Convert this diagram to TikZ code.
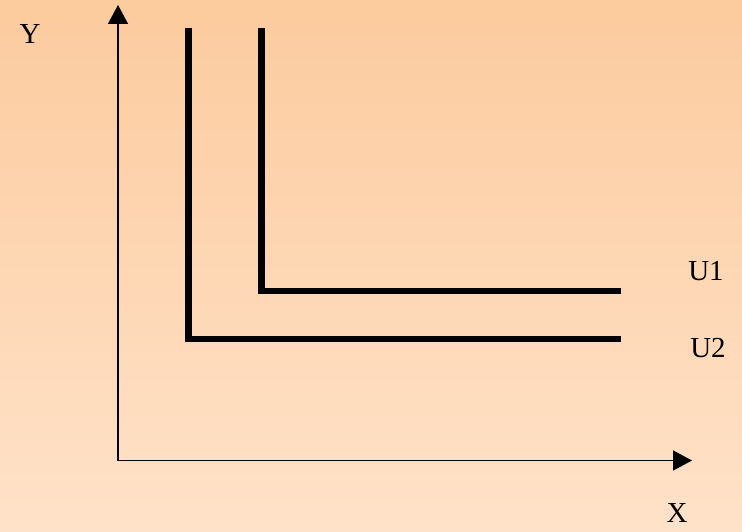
\documentclass[tikz,border=0pt]{standalone}
\usepackage{fontspec}
\setmainfont{Liberation Serif}
\usetikzlibrary{arrows.meta}
\definecolor{bgtop}{RGB}{252,203,158}
\definecolor{bgbot}{RGB}{255,226,201}
\tikzset{
  axis/.style={line width=1.6bp,-{Triangle[length=19bp,width=20bp]}},
  curve/.style={line width=6.5bp,line join=miter,line cap=butt},
  lab/.style={inner sep=0pt,font=\fontsize{29bp}{32bp}\selectfont}
}
\begin{document}
\begin{tikzpicture}[x=1bp,y=-1bp]
\shade[top color=bgtop,bottom color=bgbot] (0,0) rectangle (742,532);
\useasboundingbox (0,0) rectangle (742,532);
\coordinate (O) at (118,460.5);
\coordinate (Yend) at (118,5);
\coordinate (Xend) at (692,460.5);
\draw[axis] ([yshift=0.8bp]O) -- (Yend);
\draw[axis] ([xshift=-0.8bp]O) -- (Xend);
\coordinate (a1) at (261.5,28);
\coordinate (b1) at (261.5,291);
\coordinate (c1) at (621,291);
\coordinate (a2) at (188.5,28);
\coordinate (b2) at (188.5,339);
\coordinate (c2) at (621,339);
\draw[curve] (a1) -- (b1) -- (c1);
\draw[curve] (a2) -- (b2) -- (c2);
\node[lab] (Y) at (30,34.5) {Y};
\node[lab] (X) at (677,513.5) {X};
\node[lab] (U1) at (706,271.5) {U1};
\node[lab] (U2) at (708,348.5) {U2};
\end{tikzpicture}
\end{document}
